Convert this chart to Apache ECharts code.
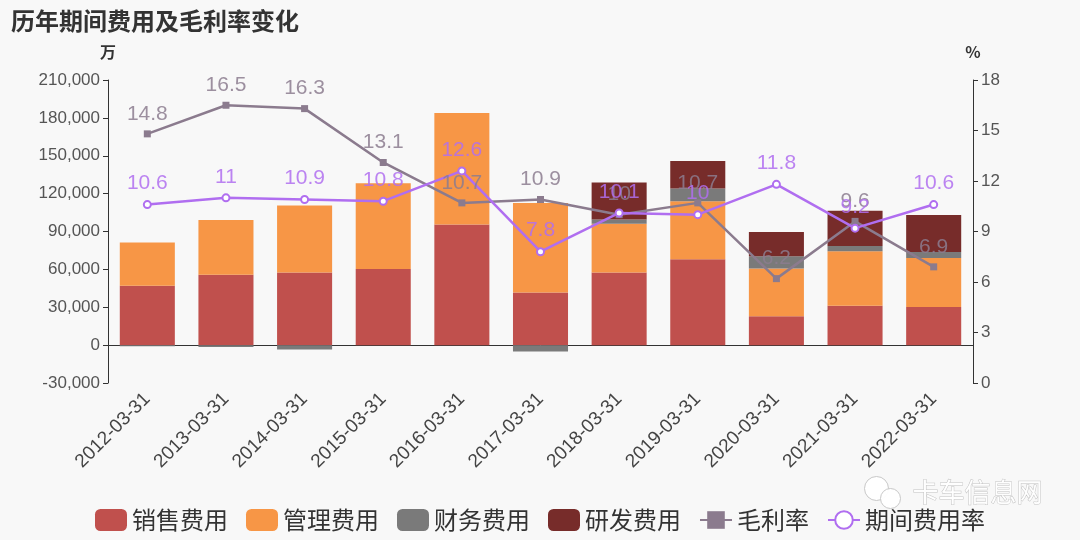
<!DOCTYPE html>
<html>
<head>
<meta charset="utf-8">
<script src="https://cdn.jsdelivr.net/npm/echarts@6/dist/echarts.min.js"></script>
<style>
html,body{margin:0;padding:0;background:#f8f8f8;}
#c{width:1080px;height:540px;}
</style>
</head>
<body>
<div id="c"></div>
<script>
var categories = ['2012-03-31','2013-03-31','2014-03-31','2015-03-31','2016-03-31','2017-03-31','2018-03-31','2019-03-31','2020-03-31','2021-03-31','2022-03-31'];
var salesExp = [47100, 55800, 57600, 60200, 95500, 41600, 57600, 68000, 22800, 31100, 30100];
var mgmtExp = [34100, 43400, 52900, 68100, 88300, 71000, 38500, 45900, 37900, 43200, 39000];
var finExp = [-800, -1500, -3500, 0, 0, -5000, 3400, 10200, 9700, 4300, 4700];
var rdExp = [0, 0, 0, 0, 0, 0, 29300, 21700, 19200, 27900, 29300];
var grossMargin = [14.8, 16.5, 16.3, 13.1, 10.7, 10.9, 10, 10.7, 6.2, 9.6, 6.9];
var expenseRate = [10.6, 11, 10.9, 10.8, 12.6, 7.8, 10.1, 10, 11.8, 9.2, 10.6];

var FONT = '"Noto Sans CJK SC", "Liberation Sans", sans-serif';
var NUMFONT = '"Liberation Sans", Arial, sans-serif';
var chart = echarts.init(document.getElementById('c'), null, {renderer: 'canvas'});
function barSeries(name, data, color) {
  return {
    name: name, type: 'bar', stack: 'exp', data: data, barWidth: '70%',
    itemStyle: {color: color}
  };
}
chart.setOption({
  backgroundColor: '#f8f8f8',
  textStyle: {fontFamily: FONT},
  title: {
    text: '历年期间费用及毛利率变化', left: 6, top: 4,
    textStyle: {fontSize: 24, fontWeight: 'bold', color: '#333', fontFamily: FONT}
  },
  legend: {
    bottom: 3, left: 'center', itemWidth: 32, itemHeight: 22, itemGap: 18,
    textStyle: {fontSize: 24, color: '#333', fontFamily: FONT},
    data: [
      {name: '销售费用', icon: 'roundRect'},
      {name: '管理费用', icon: 'roundRect'},
      {name: '财务费用', icon: 'roundRect'},
      {name: '研发费用', icon: 'roundRect'},
      {name: '毛利率'},
      {name: '期间费用率'}
    ]
  },
  grid: {left: 108, right: 107, top: 80, bottom: 157},
  xAxis: {
    type: 'category', data: categories,
    axisLine: {lineStyle: {color: '#333'}},
    axisTick: {lineStyle: {color: '#333'}},
    axisLabel: {rotate: 45, margin: 13, fontSize: 19, color: '#444', fontFamily: NUMFONT, interval: 0}
  },
  yAxis: [{
    type: 'value', name: '万', min: -30000, max: 210000, interval: 30000,
    nameGap: 20, nameTextStyle: {fontSize: 16, fontWeight: 'bold', color: '#333'},
    splitLine: {show: false},
    axisLine: {show: true, lineStyle: {color: '#333'}},
    axisTick: {show: true, lineStyle: {color: '#333'}},
    axisLabel: {fontSize: 17, color: '#555', fontFamily: NUMFONT,
      formatter: function (v) { return v.toLocaleString('en-US'); }}
  }, {
    type: 'value', name: '%', min: 0, max: 18, interval: 3, position: 'right',
    nameGap: 20, nameTextStyle: {fontSize: 16, fontWeight: 'bold', color: '#333'},
    splitLine: {show: false},
    axisLine: {show: true, lineStyle: {color: '#333'}},
    axisTick: {show: true, lineStyle: {color: '#333'}},
    axisLabel: {fontSize: 17, color: '#555', fontFamily: NUMFONT}
  }],
  series: [
    barSeries('销售费用', salesExp, '#c0504d'),
    barSeries('管理费用', mgmtExp, '#f79646'),
    barSeries('财务费用', finExp, '#7a7a7a'),
    barSeries('研发费用', rdExp, '#772c2a'),
    {
      name: '毛利率', type: 'line', yAxisIndex: 1, data: grossMargin,
      symbol: 'rect', symbolSize: 7,
      lineStyle: {color: '#8b7b8e', width: 2.5},
      itemStyle: {color: '#8b7b8e'},
      label: {show: true, position: 'top', distance: 6, fontSize: 21, color: 'rgba(140,124,143,0.85)', fontFamily: NUMFONT}
    },
    {
      name: '期间费用率', type: 'line', yAxisIndex: 1, data: expenseRate,
      symbol: 'emptyCircle', symbolSize: 7,
      lineStyle: {color: '#b06ef0', width: 2.5},
      itemStyle: {color: '#b06ef0', borderColor: '#b06ef0'},
      label: {show: true, position: 'top', distance: 6, fontSize: 21, color: 'rgba(176,110,240,0.85)', fontFamily: NUMFONT}
    }
  ],
  graphic: [{
    type: 'group', left: 864, top: 476,
    children: [
      {type: 'circle', shape: {cx: 14, cy: 12, r: 12}, style: {fill: 'rgba(255,255,255,0.95)', stroke: '#c8c8c8', lineWidth: 1}},
      {type: 'circle', shape: {cx: 28, cy: 22, r: 10}, style: {fill: 'rgba(255,255,255,0.95)', stroke: '#c8c8c8', lineWidth: 1}}
    ]
  }, {
    type: 'text', left: 912, top: 479,
    style: {text: '卡车信息网', fill: 'rgba(255,255,255,0.95)', stroke: '#c4c4c4', lineWidth: 1, font: '26px "Noto Sans CJK SC"'}
  }]
});
</script>
</body>
</html>
